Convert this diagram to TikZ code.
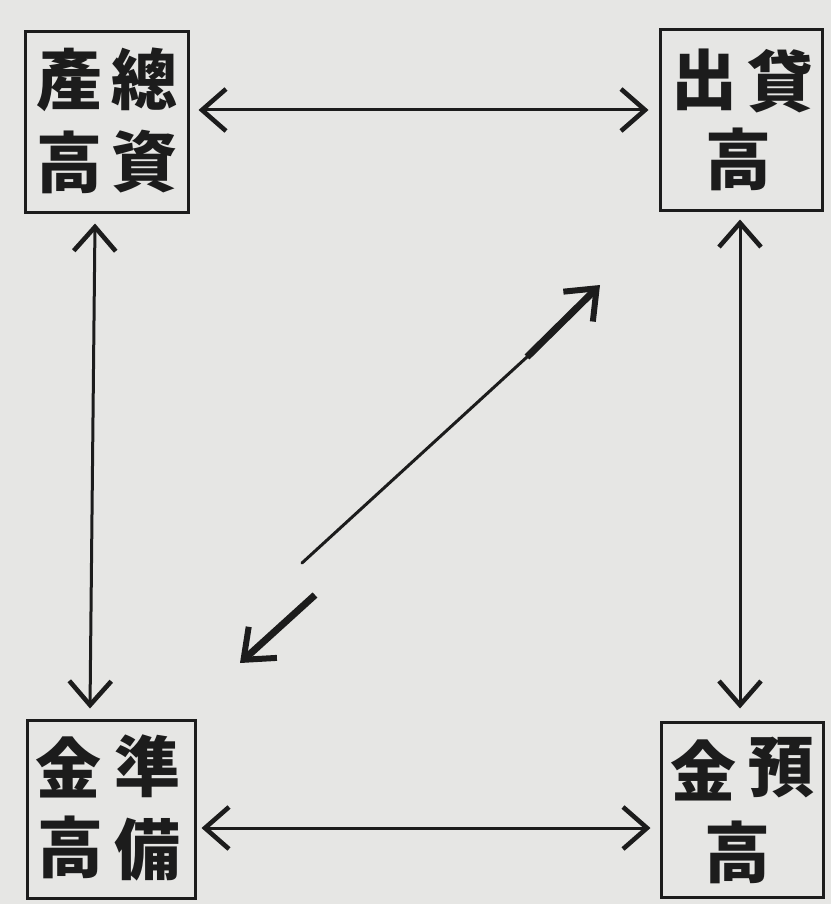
\documentclass[tikz,border=0pt]{standalone}
\usepackage{fontspec}
\newfontfamily\cjk{Noto Sans CJK JP}
\usetikzlibrary{arrows.meta}
\definecolor{paper}{RGB}{230,230,228}
\definecolor{ink}{RGB}{28,28,28}
\begin{document}
\begin{tikzpicture}[x=1pt,y=-1pt,
  box/.style={draw=ink, line width=3pt, inner sep=0pt},
  ch/.style={font=\cjk\bfseries\fontsize{66}{66}\selectfont, text=ink, inner sep=0pt},
  barbtip/.tip={Straight Barb[length=24pt,width=42pt,line width=4.6pt]},
  boldtip/.tip={Straight Barb[length=26pt,width=42pt,line width=6pt]},
  conn/.style={draw=ink, line width=3pt, barbtip-barbtip},
  thin/.style={draw=ink, line width=3pt, line cap=round},
  thick/.style={draw=ink, line width=7pt}]
\fill[paper] (0,0) rectangle (831,904);
\useasboundingbox (0,0) rectangle (831,904);
% boxes
\node[box, minimum width=163pt, minimum height=180pt] (TL) at (106.5,122) {};
\node[box, minimum width=162pt, minimum height=180pt] (TR) at (741,120) {};
\node[box, minimum width=168pt, minimum height=178pt] (BL) at (111,809) {};
\node[box, minimum width=162pt, minimum height=175pt] (BR) at (742,809.5) {};
% characters
\node[ch] (tl1) at (69,80) {產};
\node[ch] (tl2) at (144,79) {總};
\node[ch] (tl3) at (69,162) {高};
\node[ch] (tl4) at (144,162) {資};
\node[ch] (tr1) at (704,80) {出};
\node[ch] (tr2) at (780,81) {貸};
\node[ch] (tr3) at (738,159) {高};
\node[ch] (bl1) at (68,767) {金};
\node[ch] (bl2) at (147,766) {準};
\node[ch] (bl3) at (70,847) {高};
\node[ch] (bl4) at (147,850) {備};
\node[ch] (br1) at (703,770) {金};
\node[ch] (br2) at (781,768) {預};
\node[ch] (br3) at (737,852) {高};
% connectors
\draw[conn] ([xshift=9pt,yshift=12pt]TL.east) -- ([xshift=-10pt,yshift=10pt]TR.west);
\draw[conn] ([xshift=5pt,yshift=-19pt]BL.east) -- ([xshift=-9pt,yshift=-18.5pt]BR.west);
\draw[conn] ([xshift=-11.5pt,yshift=-10pt]TL.south) -- ([xshift=-21pt,yshift=10pt]BL.north);
\draw[conn] ([xshift=-1pt,yshift=-8pt]TR.south) -- ([xshift=-2pt,yshift=12pt]BR.north);
% diagonal
\coordinate (dA) at (240,663);
\coordinate (dB) at (315,595);
\coordinate (dC) at (302,563);
\coordinate (dD) at (527,357);
\coordinate (dE) at (600,285);
\draw[thin] (dC) -- (dD);
\draw[thick, -boldtip] (dD) -- (dE);
\draw[thick, -boldtip] (dB) -- (dA);
\end{tikzpicture}
\end{document}
